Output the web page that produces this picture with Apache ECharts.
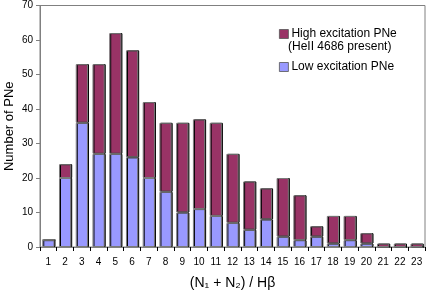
<!DOCTYPE html>
<html>
<head>
<meta charset="utf-8">
<script src="https://cdn.jsdelivr.net/npm/echarts@6/dist/echarts.min.js"></script>
<style>html,body{margin:0;padding:0;background:#fff}#c{width:430px;height:291px}</style>
</head>
<body>
<div id="c"></div>
<script>
const categories = ['1','2','3','4','5','6','7','8','9','10','11','12','13','14','15','16','17','18','19','20','21','22','23'];
const lowExcitation  = [2,20,36,27,27,26,20,16,10,11,9,7,5,8,3,2,3,1,2,1,0,0,0];
const highExcitation = [0,4,17,26,35,31,22,20,26,26,27,20,14,9,17,13,3,8,7,3,1,1,1];
const yTicks = {min:0, max:70, interval:10};

const chart = echarts.init(document.getElementById('c'), null, {renderer:'canvas'});
const FONT = 'Liberation Sans, Arial, sans-serif';
const barStyle = (c) => ({color:c, borderColor:'#7a7a7a', borderWidth:1, shadowColor:'#000', shadowOffsetX:1, shadowOffsetY:0, shadowBlur:0});
chart.setOption({
  animation:false,
  textStyle:{fontFamily:FONT},
  grid:{left:40, right:5, top:5.5, bottom:44, show:true, borderColor:'#808080', borderWidth:1, outerBoundsMode:'none', containLabel:false},
  legend:{
    orient:'vertical', left:274, top:23, itemWidth:9, itemHeight:9, itemGap:21,
    data:['High excitation PNe','Low excitation PNe'],
    textStyle:{fontFamily:FONT, fontSize:12, color:'#000', padding:[0,0,0,-2]},
    icon:'rect', itemStyle:{borderColor:'#555', borderWidth:0.8}
  },
  graphic:[{type:'text', left:288, top:41, style:{text:'(HeII 4686 present)', font:'12px Liberation Sans, Arial, sans-serif', fill:'#000'}}],
  xAxis:{
    type:'category', data:categories,
    name:'(N\u2081 + N\u2082) / H\u03b2', nameLocation:'middle', nameGap:29, nameMoveOverlap:false,
    nameTextStyle:{fontFamily:FONT, fontSize:14, color:'#000'},
    axisLine:{lineStyle:{color:'#808080'}},
    axisTick:{show:true, alignWithLabel:false, length:4, lineStyle:{color:'#000'}},
    axisLabel:{fontSize:10, color:'#000', margin:10}
  },
  yAxis:{
    type:'value', min:yTicks.min, max:yTicks.max, interval:yTicks.interval,
    name:'Number of PNe', nameLocation:'middle', nameGap:24, nameMoveOverlap:false,
    nameTextStyle:{fontFamily:FONT, fontSize:13, color:'#000'},
    axisLine:{show:true, lineStyle:{color:'#808080'}},
    axisTick:{show:true, length:4, lineStyle:{color:'#808080'}},
    axisLabel:{fontSize:10, color:'#000', margin:7},
    splitLine:{show:false}
  },
  series:[
    {name:'Low excitation PNe', type:'bar', stack:'a', data:lowExcitation, barCategoryGap:'27%', itemStyle:barStyle('#9999FF')},
    {name:'High excitation PNe', type:'bar', stack:'a', data:highExcitation, itemStyle:barStyle('#993366')}
  ]
});
</script>
</body>
</html>
